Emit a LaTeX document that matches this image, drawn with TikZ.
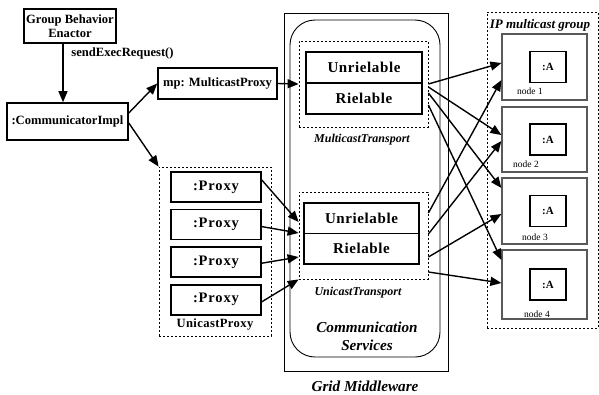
\documentclass[tikz,border=0pt]{standalone}
\usepackage{fontspec}
\setmainfont{Liberation Serif}
\usetikzlibrary{arrows.meta,positioning,calc}

\begin{document}
\begin{tikzpicture}[
  x=1pt, y=-1pt,
  font=\fontsize{12.6}{14}\selectfont\bfseries,
  >={Triangle[length=11pt,width=9pt]},
  obj/.style={
    rectangle, draw, line width=1.6pt,
    inner sep=0pt, align=center
  },
  layer/.style={
    obj, font=\fontsize{15}{17}\selectfont\bfseries\addfontfeature{LetterSpace=4},
    minimum width=116pt, minimum height=30.5pt
  },
  proxy/.style={
    obj, font=\fontsize{14.5}{16}\selectfont\bfseries\addfontfeature{LetterSpace=6},
    minimum width=90pt, minimum height=30pt
  },
  grp/.style={
    rectangle, draw, line width=0.8pt,
    dash pattern=on 2pt off 2pt, inner sep=0pt
  },
  host/.style={
    rectangle, draw=black!65, line width=1.2pt,
    inner sep=0pt, minimum width=85pt
  },
  inst/.style={
    obj, font=\fontsize{11}{12}\selectfont\bfseries,
    minimum width=36pt, minimum height=31pt
  },
  arr/.style={->, line width=1.4pt},
  tag/.style={font=\fontsize{12}{13}\selectfont\bfseries\itshape},
  big/.style={font=\fontsize{15.2}{18}\selectfont\bfseries\itshape, align=center},
  hostlbl/.style={font=\fontsize{9.5}{11}\selectfont}
  ]
  \useasboundingbox (0,0) rectangle (599,394);

  %% ─── CLIENT SIDE ──────────────────────────────────────────────
  \node[obj, minimum width=92pt, minimum height=34pt] (gbe) at (70,26)
    {Group Behavior\\Enactor};
  \node[obj, minimum width=121pt, minimum height=37pt] (comm) at (67.5,121.5)
    {:CommunicatorImpl};
  \node (req) at (122.5,53) {sendExecRequest()};
  \node[obj, minimum width=119pt, minimum height=31pt] (mp) at (217.5,83.5)
    {mp: MulticastProxy};

  \node[grp, minimum width=112pt, minimum height=169pt] (up) at (215,251.5) {};
  \node[proxy] (p1) at (216,187) {:Proxy};
  \node[proxy, below=6pt of p1] (p2) {:Proxy};
  \node[proxy, below=6pt of p2] (p3) {:Proxy};
  \node[proxy, below=6pt of p3] (p4) {:Proxy};
  \node[font=\fontsize{12.6}{14}\selectfont\bfseries\addfontfeature{LetterSpace=3}]
    (uplbl) at (215,324) {UnicastProxy};

  %% ─── GRID MIDDLEWARE ──────────────────────────────────────────
  \node[rectangle, draw, line width=0.9pt, minimum width=164pt, minimum height=358pt]
    (gm) at (366,192) {};
  \node[rectangle, draw, line width=0.9pt, rounded corners=25pt,
    minimum width=150pt, minimum height=337pt] (cs) at (365,188.5) {};

  \node[grp, minimum width=129pt, minimum height=86pt] (mt) at (363.5,84) {};
  \node[layer] (mtu) at (364,67.5) {Unrielable};
  \node[layer] (mtr) at (364,98.5) {Rielable};
  \node[tag] (mtlbl) at (362,140) {MulticastTransport};

  \node[grp, minimum width=129pt, minimum height=87pt] (ut) at (363.5,235.5) {};
  \node[layer, minimum width=115pt] (utu) at (361.5,218.25) {Unrielable};
  \node[layer, minimum width=115pt] (utr) at (361.5,248.75) {Rielable};
  \node[tag] (utlbl) at (358,293) {UnicastTransport};

  \node[big] (cslbl) at (367,336) {Communication\\Services};
  \node[big] (gmlbl) at (365,386) {Grid Middleware};

  %% ─── IP MULTICAST GROUP ───────────────────────────────────────
  \node[grp, minimum width=111pt, minimum height=316pt] (ipg) at (542.5,170) {};
  \node[tag, font=\fontsize{13}{14}\selectfont\bfseries\itshape] (ipglbl) at (540,25)
    {IP multicast group};

  \node[host, minimum height=66pt] (n1) at (544.5,67) {};
  \node[host, minimum height=65pt] (n2) at (544.5,139.5) {};
  \node[host, minimum height=66pt] (n3) at (544.5,211) {};
  \node[host, minimum height=69pt] (n4) at (544.5,284.5) {};
  \foreach \i in {1,...,4}
    \node[inst, xshift=3.5pt] (a\i) at (n\i) {:A};
  \node[hostlbl] at (530,91) {node 1};
  \node[hostlbl] at (526,164) {node 2};
  \node[hostlbl] at (535,237) {node 3};
  \node[hostlbl] at (537,314) {node 4};

  %% ─── CONNECTORS ───────────────────────────────────────────────
  \draw[arr] ([xshift=-7pt]gbe.south) -- ([xshift=-7pt]gbe.south |- comm.north);
  \draw[arr] ([yshift=8.5pt]comm.east) -- (mp.west);
  \draw[arr] ([yshift=-1.5pt]comm.east) -- (up.north west);
  \draw[arr] (mp.east) -- (mt.west);

  \draw[arr] ([yshift=7pt]p1.east) -- ([yshift=13.5pt]ut.west);
  \draw[arr] ([yshift=-2pt]p2.east) -- ([yshift=2.5pt]ut.west);
  \draw[arr] ([yshift=-1pt]p3.east) -- ([yshift=-21.5pt]ut.west);
  \draw[arr] ([yshift=-2pt]p4.east) -- (ut.south west);

  % multicast: one send reaches every host
  \draw[arr] (mt.east) -- ([yshift=4pt]n1.west);
  \draw[arr] ([yshift=-3pt]mt.east) -- ([yshift=4.5pt]n2.west);
  \draw[arr] ([yshift=-9pt]mt.east) -- ([yshift=23pt]n3.west);
  \draw[arr] ([yshift=-21pt]mt.east) -- ([yshift=24.5pt]n4.west);
  % unicast: one send per host
  \draw[arr] ([yshift=22.5pt]ut.east) -- ([yshift=-13pt]n1.west);
  \draw[arr] ([yshift=1.5pt]ut.east) -- ([yshift=-1.5pt]n2.west);
  \draw[arr] ([yshift=-21.5pt]ut.east) -- ([yshift=-3pt]n3.west);
  \draw[arr] ([yshift=-36.5pt]ut.east) -- ([yshift=1.5pt]n4.west);
\end{tikzpicture}
\end{document}
